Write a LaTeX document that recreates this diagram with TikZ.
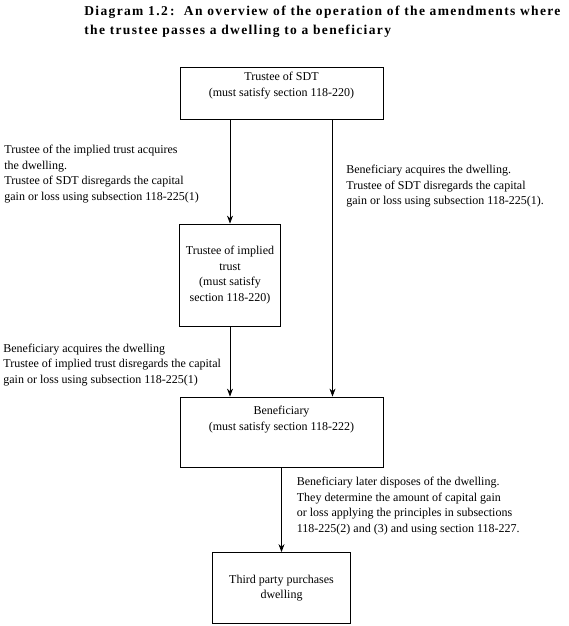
\documentclass[tikz,border=0pt]{standalone}
\usepackage{fontspec}
\setmainfont{Liberation Serif}
\newfontfamily\titlefont[LetterSpace=10]{Liberation Serif}
\usetikzlibrary{arrows.meta}
\newcommand{\bodysize}{\fontsize{12pt}{15.5pt}\selectfont}
\tikzstyle{box} = [rectangle, 
draw=black, 
inner sep=0pt, 
text centered, 
font=\bodysize]
\tikzstyle{note} = [inner sep=0pt, 
anchor=north west, 
align=left, 
font=\bodysize]
\tikzstyle{arrow} = [->,>={Stealth[length=8pt,width=6pt]}]
\begin{document}
\begin{tikzpicture}[x=1pt, y=-1pt, node distance=156pt, line width=0.8pt]
                \useasboundingbox (0,0) rectangle (568,626);
                \node[note, font=\titlefont\bfseries\fontsize{13.5pt}{18.3pt}\selectfont] (title) at (84,6)
                {Diagram 1.2\,:\ \ An overview of the operation of the amendments where\\
                the trustee passes a dwelling to a beneficiary};

                \node[box, minimum width=203pt, minimum height=52pt] (sdt) at (281.5,93)
                {\parbox[c][52pt][t]{200pt}{\centering\vspace*{5.5pt}Trustee of SDT\\(must satisfy section 118-220)}};
                \node[box, below of=sdt, xshift=-51.5pt, yshift=-26pt, minimum width=101pt, minimum height=102pt, align=center] (implied)
                {Trustee of implied\\trust\\(must satisfy\\section 118-220)};
                \node[box, below of=implied, xshift=51.5pt, yshift=-1pt, minimum width=203pt, minimum height=70pt] (ben)
                {\parbox[c][70pt][t]{200pt}{\centering\vspace*{9.5pt}Beneficiary\\(must satisfy section 118-222)}};
                \node[box, below of=ben, minimum width=138pt, minimum height=71pt, align=center] (third)
                {Third party purchases\\dwelling};

                % notes beside the arrows
                \node[note] (acqImplied) at (4,145) {Trustee of the implied trust acquires\\the dwelling.\\
                Trustee of SDT disregards the capital\\gain or loss using subsection 118-225(1)};
                \node[note] (acqDirect) at (346,165) {Beneficiary acquires the dwelling.\\
                Trustee of SDT disregards the capital\\gain or loss using subsection 118-225(1).};
                \node[note] (acqBen) at (3,343.5) {Beneficiary acquires the dwelling\\
                Trustee of implied trust disregards the capital\\gain or loss using subsection 118-225(1)};
                \node[note] (dispose) at (296.5,476.8) {Beneficiary later disposes of the dwelling.\\
                They determine the amount of capital gain\\or loss applying the principles in subsections\\
                118-225(2) and (3) and using section 118-227.};

                \draw[arrow] (sdt.south -| implied.north) -- (implied.north);
                \draw[arrow] ([xshift=51pt]sdt.south) -- ([xshift=51pt]ben.north);
                \draw[arrow] (implied.south) -- (implied.south |- ben.north);
                \draw[arrow] (ben) -- (third);
            \end{tikzpicture}
\end{document}
